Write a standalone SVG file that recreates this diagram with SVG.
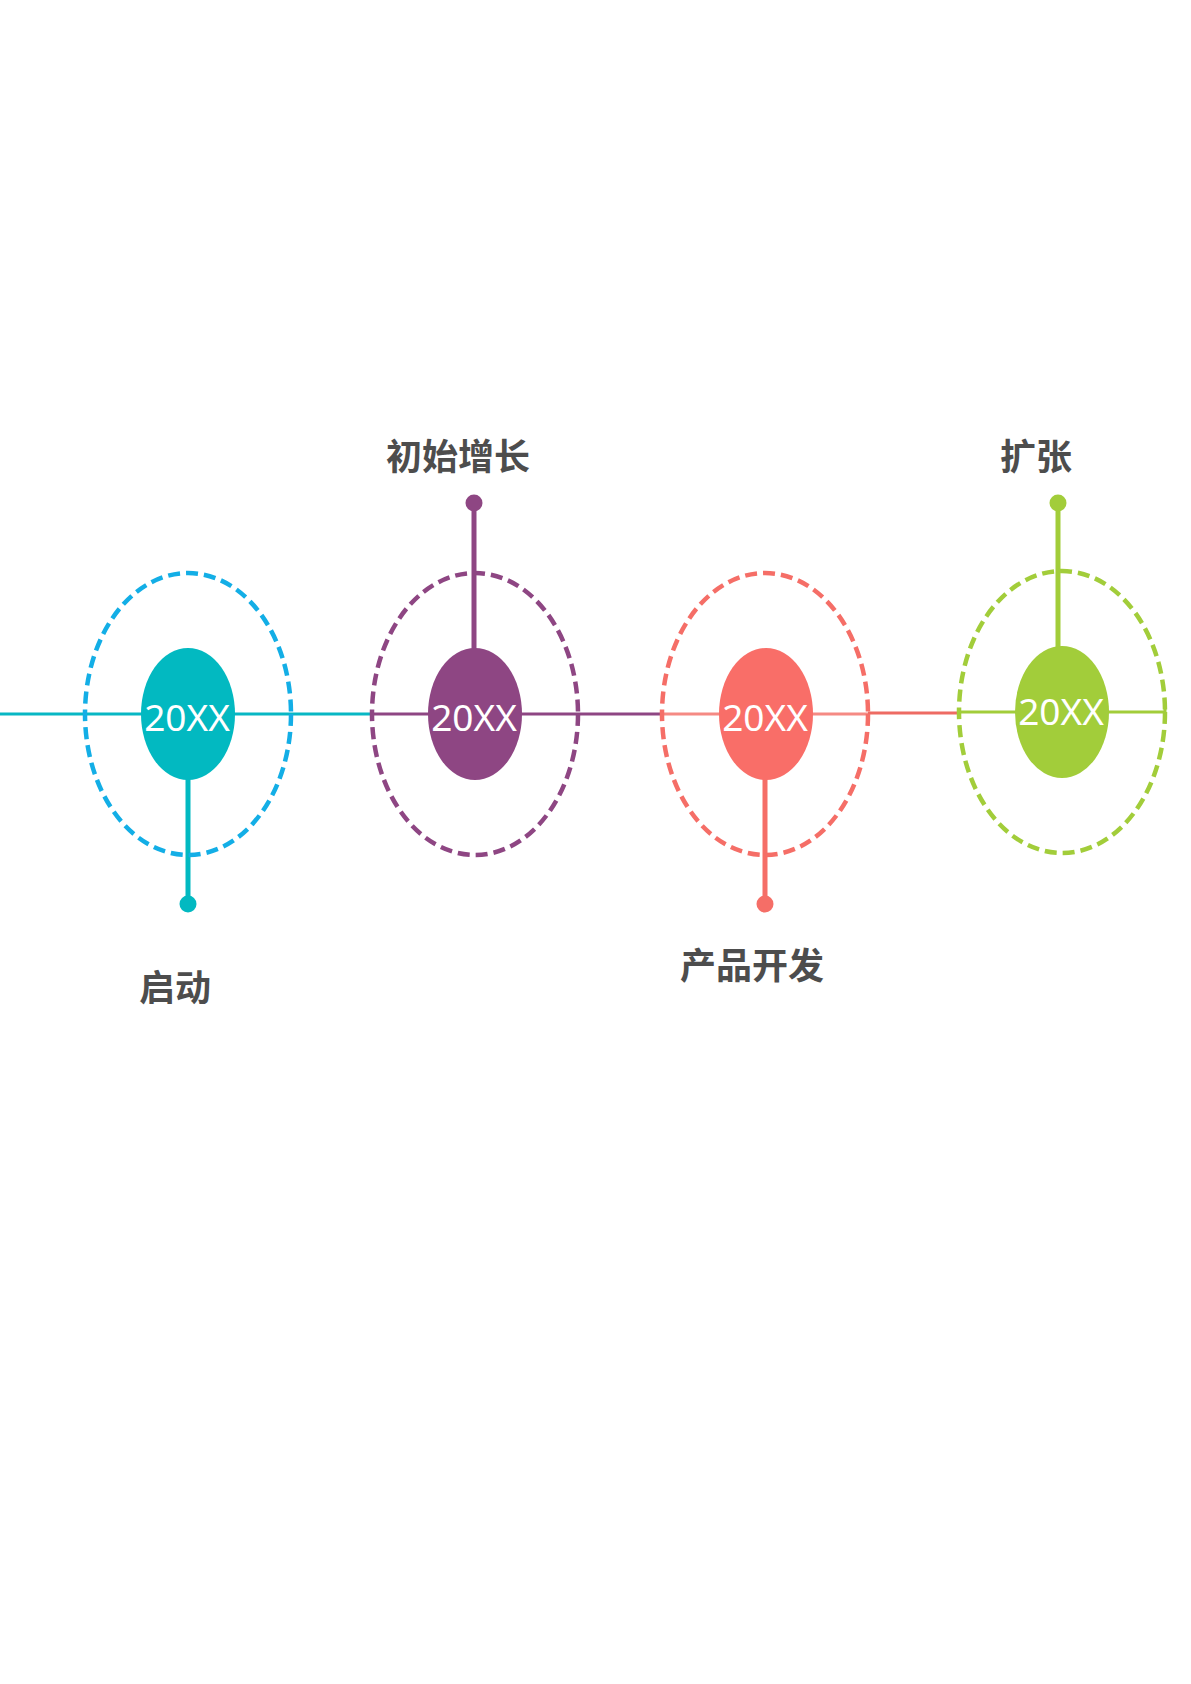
<svg xmlns="http://www.w3.org/2000/svg" width="1191" height="1684" viewBox="0 0 1191 1684">
<style>
.yr{font-family:"Noto Sans","Open Sans","DejaVu Sans",sans-serif;font-size:37px;fill:#ffffff;text-anchor:middle}
.lbl{font-family:"Noto Sans CJK SC","Noto Sans",sans-serif;font-size:36px;font-weight:bold;fill:#4d4d4d;text-anchor:middle}
.ring{fill:none;stroke-width:4.5;stroke-dasharray:12 6}
.stem{stroke-width:5;fill:none}
.axis{stroke-width:3;fill:none}
</style>
<rect width="1191" height="1684" fill="#ffffff"/>
<g id="connectors">
<line class="axis" x1="0" y1="714" x2="372" y2="714" stroke="#08b7c4"/>
<line class="axis" x1="372" y1="714" x2="663" y2="714" stroke="#8e4683"/>
<line class="axis" x1="663" y1="714" x2="868" y2="714" stroke="#f58a84"/>
<line class="axis" x1="868" y1="713" x2="959" y2="713" stroke="#ee6b63"/>
<line class="axis" x1="959" y1="712" x2="1165" y2="712" stroke="#a2cd3a"/>
<line class="axis" x1="1165" y1="706" x2="1165" y2="718" stroke="#a2cd3a"/>
<line class="stem" x1="188" y1="770" x2="188" y2="904" stroke="#02b9c1"/>
<line class="stem" x1="474" y1="503" x2="474" y2="655" stroke="#8e4683"/>
<line class="stem" x1="765" y1="770" x2="765" y2="904" stroke="#f56e67"/>
<line class="stem" x1="1058" y1="503" x2="1058" y2="655" stroke="#a2cd3a"/>
</g>
<g id="node-1">
<ellipse class="ring" cx="188" cy="714" rx="103" ry="141" stroke="#13aee6"/>
<ellipse cx="188" cy="714" rx="47" ry="66" fill="#02b9c1"/>
<circle cx="188" cy="904" r="8.5" fill="#02b9c1"/>
<text class="yr" x="187" y="731">20XX</text>
<text class="lbl" x="175" y="1001">启动</text>
</g>
<g id="node-2">
<ellipse class="ring" cx="475" cy="714" rx="103" ry="141" stroke="#8e4683"/>
<ellipse cx="475" cy="714" rx="47" ry="66" fill="#8e4683"/>
<circle cx="474" cy="503" r="8.5" fill="#8e4683"/>
<text class="yr" x="474" y="731">20XX</text>
<text class="lbl" x="458" y="470">初始增长</text>
</g>
<g id="node-3">
<ellipse class="ring" cx="765" cy="714" rx="103" ry="141" stroke="#f56e67"/>
<ellipse cx="766" cy="714" rx="47" ry="66" fill="#f96e68"/>
<circle cx="765" cy="904" r="8.5" fill="#f56e67"/>
<text class="yr" x="765" y="731">20XX</text>
<text class="lbl" x="752" y="979">产品开发</text>
</g>
<g id="node-4">
<ellipse class="ring" cx="1062" cy="712" rx="103" ry="141" stroke="#a2cd3a"/>
<ellipse cx="1062" cy="712" rx="47" ry="66" fill="#a2cd3a"/>
<circle cx="1058" cy="503" r="8.5" fill="#a2cd3a"/>
<text class="yr" x="1061" y="725">20XX</text>
<text class="lbl" x="1036" y="470">扩张</text>
</g>
</svg>
